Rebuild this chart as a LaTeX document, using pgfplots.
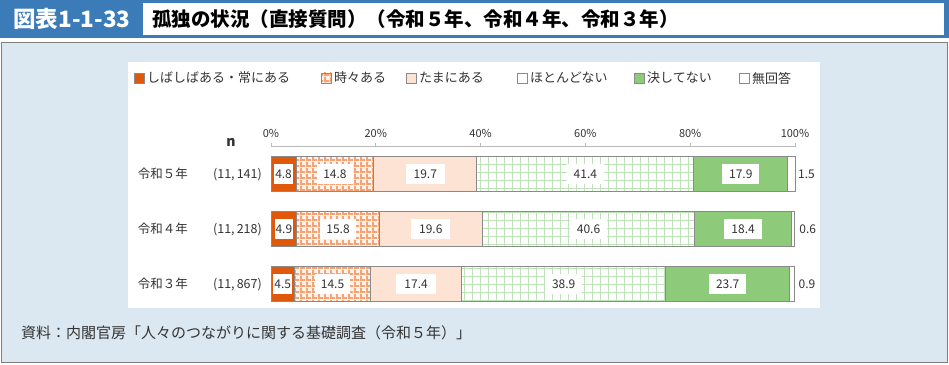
\documentclass[border=0pt]{standalone}
\usepackage{pgfplots}
\pgfplotsset{compat=1.18}
\usepackage{fontspec}
\setmainfont{Noto Sans CJK JP}
\usetikzlibrary{patterns}
\pgfdeclarepatternformonly{mygrid}{\pgfqpoint{-1pt}{-1pt}}{\pgfqpoint{9pt}{9pt}}{\pgfqpoint{8pt}{8pt}}{%
  \pgfsetlinewidth{0.7pt}%
  \pgfpathmoveto{\pgfqpoint{-1pt}{0pt}}\pgfpathlineto{\pgfqpoint{9pt}{0pt}}%
  \pgfpathmoveto{\pgfqpoint{0pt}{-1pt}}\pgfpathlineto{\pgfqpoint{0pt}{9pt}}%
  \pgfusepath{stroke}}
\pgfdeclarepatternformonly{mycheck}{\pgfqpoint{0pt}{0pt}}{\pgfqpoint{6pt}{6pt}}{\pgfqpoint{6pt}{6pt}}{%
  \pgfpathrectangle{\pgfqpoint{0pt}{0pt}}{\pgfqpoint{6pt}{2.2pt}}%
  \pgfpathrectangle{\pgfqpoint{0pt}{2.2pt}}{\pgfqpoint{2.2pt}{3.8pt}}%
  \pgfusepath{fill}}
\definecolor{hdrblue}{HTML}{3A7BB8}
\definecolor{panelbg}{HTML}{DCE8F1}
\definecolor{panelbd}{HTML}{808080}
\definecolor{cA}{HTML}{E0580A}
\definecolor{cBline}{HTML}{F6A273}
\definecolor{cBfill}{HTML}{FFF3EB}
\definecolor{cC}{HTML}{FCE3D4}
\definecolor{cDline}{HTML}{BFE3B8}
\definecolor{cE}{HTML}{8DCB7B}
\definecolor{bd}{HTML}{8A8A8A}
\definecolor{txt}{HTML}{333333}
\begin{document}
\begin{tikzpicture}[x=1pt,y=1pt]
\useasboundingbox (0,0) rectangle (949,364);
\fill[white] (0,0) rectangle (949,364);
% header
\fill[hdrblue] (0,326) rectangle (949,364);
\fill[white] (143,329) rectangle (944,361);
\node[anchor=center, text=white, font=\fontsize{22.5}{22.5}\selectfont\bfseries] at (72,345) {図表1-1-33};
\node[anchor=west, inner sep=0pt, text=black, font=\fontsize{19.5}{19.5}\selectfont\bfseries] at (152,345) {孤独の状況（直接質問）（令和５年、令和４年、令和３年）};
% panel
\filldraw[fill=panelbg, draw=panelbd, line width=1pt] (1,2) rectangle (947,321);
\fill[white] (128,56) rectangle (820,302);
% legend
\tikzset{legtxt/.style={anchor=west, inner sep=0pt, text=txt, font=\fontsize{13}{13}\selectfont}}
\filldraw[fill=cA, draw=bd, line width=0.8pt] (134,281) rectangle (144,291);
\node[legtxt] at (147,286) {しばしばある・常にある};
\fill[cBfill] (321,281) rectangle (331,291);
\fill[pattern=mycheck, pattern color=cBline] (321,281) rectangle (331,291);
\draw[bd, line width=0.8pt] (321,281) rectangle (331,291);
\node[legtxt] at (334,286) {時々ある};
\filldraw[fill=cC, draw=bd, line width=0.8pt] (406,281) rectangle (416,291);
\node[legtxt] at (419,286) {たまにある};
\filldraw[fill=white, draw=bd, line width=0.8pt] (517,281) rectangle (527,291);
\node[legtxt] at (530,286) {ほとんどない};
\filldraw[fill=cE, draw=bd, line width=0.8pt] (634,281) rectangle (644,291);
\node[legtxt] at (647,286) {決してない};
\filldraw[fill=white, draw=bd, line width=0.8pt] (739,281) rectangle (749,291);
\node[legtxt] at (752,286) {無回答};
% n label
\node[anchor=center, text=txt, font=\fontsize{14}{14}\selectfont\bfseries] at (231,222) {n};
\begin{axis}[
  at={(271pt,52.5pt)}, anchor=south west,
  scale only axis, width=524pt, height=165pt,
  xbar stacked, bar width=35pt,
  xmin=0, xmax=100, ymin=-0.5, ymax=2.5,
  axis x line*=top, axis y line*=left,
  y axis line style={draw=none},
  x axis line style={draw=gray!55, line width=1.2pt},
  xtick={0,20,40,60,80,100},
  xticklabels={0\%,20\%,40\%,60\%,80\%,100\%},
  xtick style={draw=gray!55, line width=1pt},
  tick align=outside, major tick length=4pt,
  xticklabel style={font=\fontsize{11}{11}\selectfont, text=txt, yshift=1pt},
  ytick={0,1,2},
  yticklabels={{令和３年\hfill(11,\,867)},{令和４年\hfill(11,\,218)},{令和５年\hfill(11,\,141)}},
  ytick style={draw=none},
  yticklabel style={font=\fontsize{12.5}{12.5}\selectfont, text=txt, text width=124pt, align=left, anchor=east, inner sep=0pt, xshift=-5pt},
  clip=false,
  /pgf/number format/assume math mode=true,
  visualization depends on={rawx \as \segval},
  segstyle/.style={
    nodes near coords={\pgfmathprintnumber[fixed,precision=1,fixed zerofill]{\segval}},
    nodes near coords align={center},
    every node near coord/.style={anchor=center, fill=white, text=txt, font=\fontsize{12}{12}\selectfont, inner xsep=#1, inner ysep=0pt, minimum height=20pt},
  },
]
\addplot[fill=cA, draw=bd, line width=1pt, segstyle=1pt] coordinates {(4.5,0) (4.9,1) (4.8,2)};
\addplot[draw=bd, line width=1pt, preaction={fill=cBfill},
  pattern=mycheck, pattern color=cBline, segstyle=6pt] coordinates {(14.5,0) (15.8,1) (14.8,2)};
\addplot[fill=cC, draw=bd, line width=1pt, segstyle=8pt] coordinates {(17.4,0) (19.6,1) (19.7,2)};
\addplot[draw=bd, line width=1pt, preaction={fill=white},
  pattern=mygrid, pattern color=cDline, segstyle=7pt] coordinates {(38.9,0) (40.6,1) (41.4,2)};
\addplot[fill=cE, draw=bd, line width=1pt, segstyle=7pt] coordinates {(23.7,0) (18.4,1) (17.9,2)};
\addplot[fill=white, draw=bd, line width=1pt,
  nodes near coords={\pgfmathprintnumber[fixed,precision=1,fixed zerofill]{\segval}},
  every node near coord/.style={anchor=west, xshift=5pt, text=txt, font=\fontsize{12}{12}\selectfont, inner sep=1pt}] coordinates {(0.9,0) (0.6,1) (1.5,2)};
\end{axis}
\node[anchor=west, inner sep=0pt, font=\fontsize{15}{15}\selectfont, text=txt] at (21,31) {資料：内閣官房「人々のつながりに関する基礎調査（令和５年）」};
\end{tikzpicture}
\end{document}
